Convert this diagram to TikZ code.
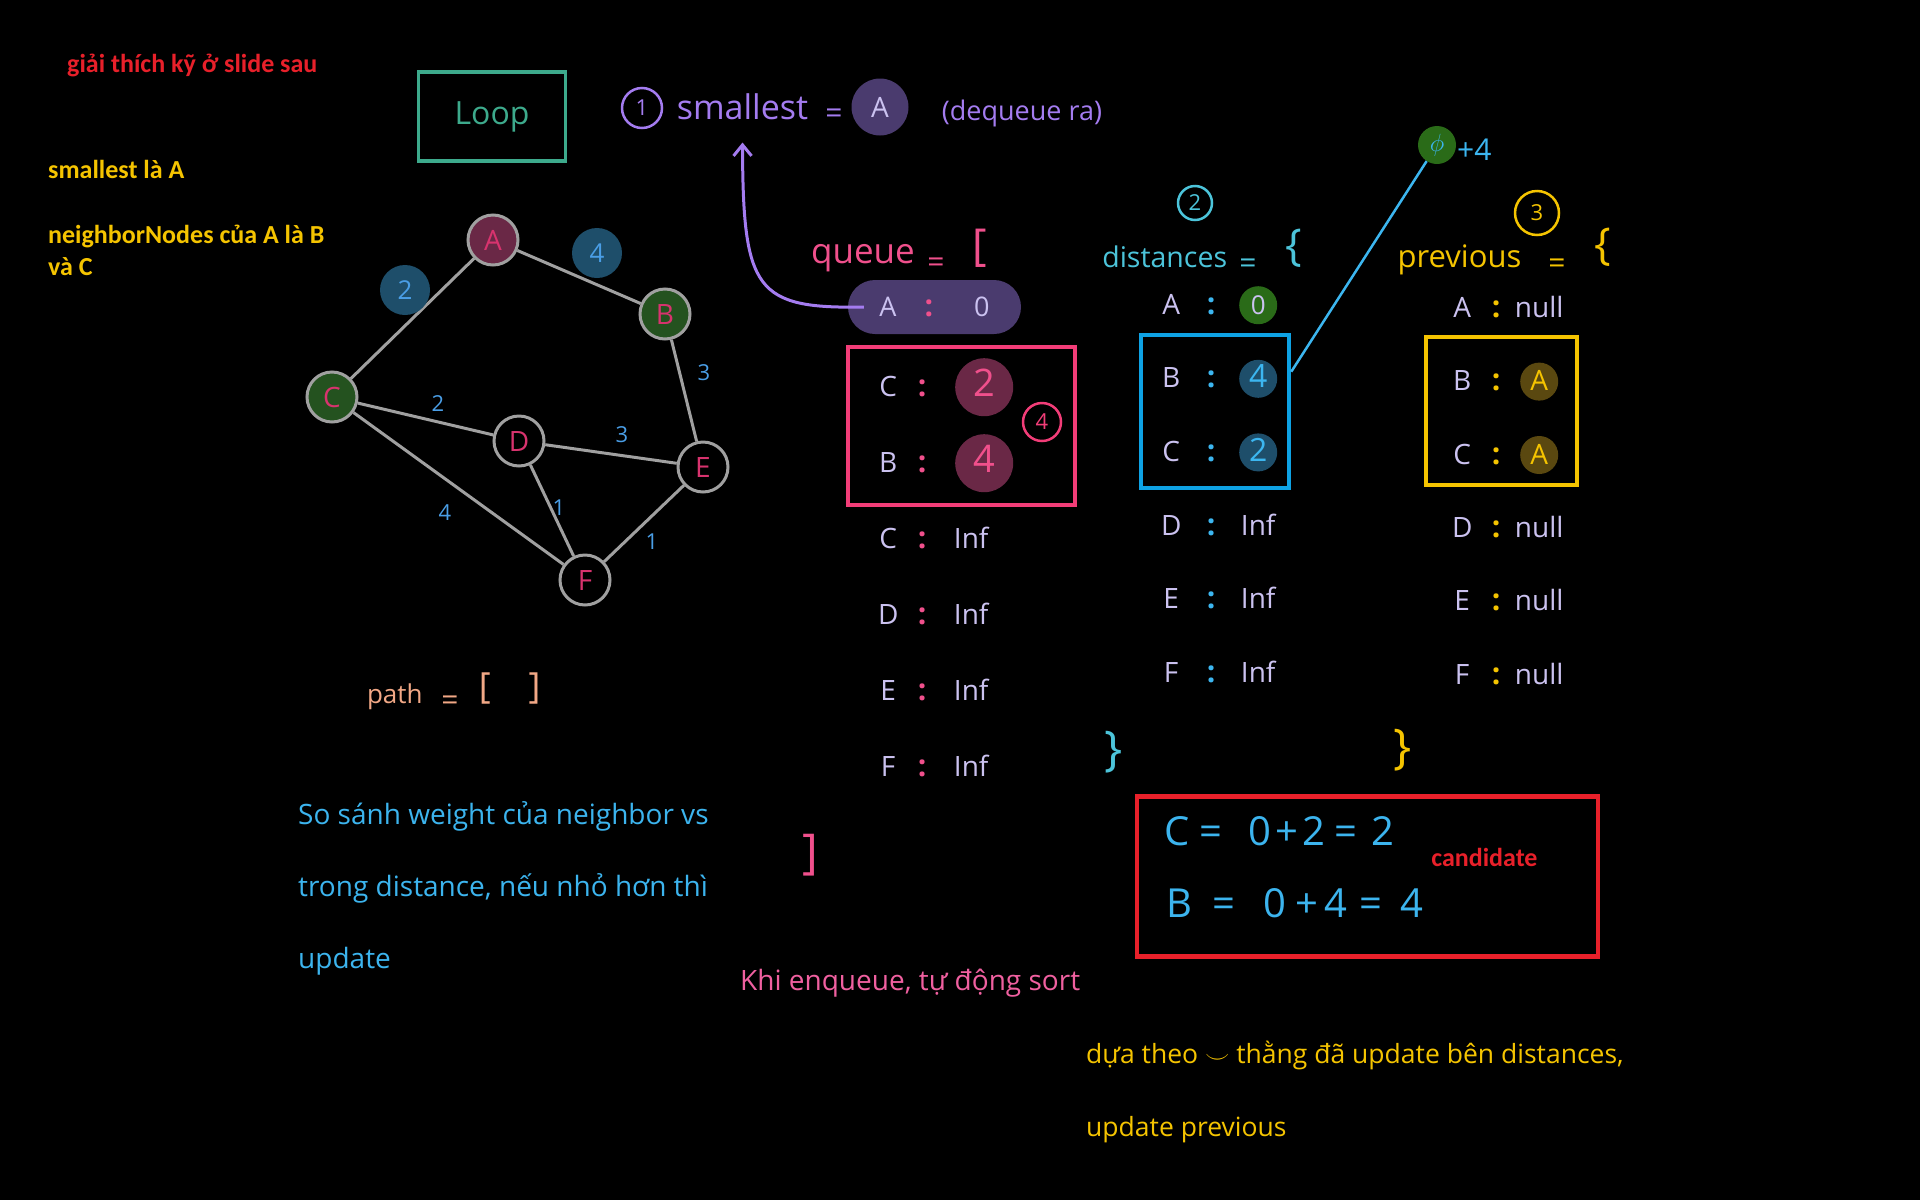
\documentclass[tikz,border=0pt]{standalone}
\usepackage{fontspec}
\setmainfont{Open Sans}
\newfontfamily\typed{Carlito}
\usetikzlibrary{matrix,arrows.meta}
\newcommand\fsz[1]{\fontsize{#1}{#1}\selectfont}
\definecolor{loopteal}{HTML}{3DAA8C}
\definecolor{purp}{HTML}{A47CF0}
\definecolor{purpfill}{HTML}{4A3B6E}
\definecolor{lav}{HTML}{CBC2F0}
\definecolor{qpink}{HTML}{F0508C}
\definecolor{boxpink}{HTML}{F23D78}
\definecolor{maroon}{HTML}{6A2846}
\definecolor{npink}{HTML}{D8336E}
\definecolor{dgreen}{HTML}{24521F}
\definecolor{blobteal}{HTML}{1E4E6A}
\definecolor{wblue}{HTML}{4A9EE6}
\definecolor{dcyan}{HTML}{4CC4DA}
\definecolor{dblue}{HTML}{0EA2E4}
\definecolor{dotblue}{HTML}{3CB6F0}
\definecolor{ygold}{HTML}{F5C400}
\definecolor{olive}{HTML}{5A4810}
\definecolor{zgreen}{HTML}{2A6B18}
\definecolor{cred}{HTML}{E8202A}
\definecolor{salmon}{HTML}{F2A886}
\definecolor{nblue}{HTML}{3CB4EE}
\definecolor{kpink}{HTML}{F060A0}
\definecolor{edgegray}{HTML}{A0A0A0}

\begin{document}
\begin{tikzpicture}[x=1pt,y=-1pt,
  txt/.style={inner sep=0pt},
  typed/.style={txt,font=\typed\bfseries\fsz{26},anchor=base west},
  gnode/.style={circle,draw=edgegray,line width=3pt,minimum size=50pt,inner sep=0pt,text=npink,font=\fsz{28}},
  wt/.style={txt,text=wblue,font=\fsz{22}},
  wblob/.style={wt,circle,fill=blobteal,minimum size=50pt,font=\fsz{26}},
  numc/.style={circle,draw,line width=2.5pt,inner sep=0pt,font=\fsz{22}},
  boxline/.style={draw,line width=4.5pt,inner sep=0pt},
  dict/.style={matrix of nodes,inner sep=0pt,row sep=0pt,column sep=0pt,anchor=north west,
    nodes={anchor=center,inner sep=0pt,text height=20pt,text depth=2pt,font=\fsz{28},text=lav},
    column 2/.style={nodes={font=\bfseries\fsz{30},minimum width=28pt}}},
  qblob/.style={circle,fill=maroon,minimum size=58pt,text=qpink,font=\fsz{38},xshift=13pt},
  dblob/.style={circle,fill=blobteal,minimum size=38pt,text=dotblue,font=\fsz{32}},
  pblob/.style={circle,fill=olive,minimum size=38pt,text=ygold,font=\fsz{28}}]
\useasboundingbox (0,0) rectangle (1920,1200);
\fill[black] (0,0) rectangle (1920,1200);

% notes on the left
\node[typed,cred] (hint) at (67,72) {giải thích kỹ ở slide sau};
\node[typed,ygold] (smallnote) at (48,178) {smallest là A};
\node[typed,ygold,font=\typed\bfseries\fontsize{26}{32}\selectfont,align=left,anchor=west] (nbrnote) at (48,250) {neighborNodes của A là B\\và C};
\node[boxline,draw=loopteal,line width=3.5pt,minimum width=147pt,minimum height=89pt,text=loopteal,font=\fsz{32}] (loop) at (492,116.5) {Loop\hspace{22pt}};

% graph
\node[gnode,fill=maroon] (A) at (493,240) {A};
\node[gnode,fill=dgreen] (B) at (665,314) {B};
\node[gnode,fill=dgreen] (C) at (332,397) {C};
\node[gnode] (D) at (519,441) {D};
\node[gnode] (E) at (703,467) {E};
\node[gnode] (F) at (585,580) {F};
\path[edgegray,line width=3pt]
(A) edge node[wblob,xshift=-7.5pt,yshift=28.5pt] {2} (C)
(A) edge node[wblob,xshift=18pt,yshift=24pt] {4} (B)
(B) edge node[wt,xshift=20pt,yshift=17.5pt] {3} (E)
(C) edge node[wt,xshift=12.5pt,yshift=15pt] {2} (D)
(D) edge node[wt,xshift=11pt,yshift=19pt] {3} (E)
(C) edge node[wt,xshift=-13.5pt,yshift=-24.5pt] {4} (F)
(D) edge node[wt,xshift=7pt,yshift=2.5pt] {1} (F)
(E) edge node[wt,xshift=8pt,yshift=-18.5pt] {1} (F);

% step 1: smallest
\node[numc,purp,minimum size=40pt] (n1) at (642,108) {1};
\node[txt,purp,font=\fsz{34},anchor=base] (smallest) at (742.5,119) {smallest};
\node[txt,purp,font=\fsz{30},anchor=base] (smeq) at (834,123) {=};
\node[circle,fill=purpfill,minimum size=57pt,inner sep=0pt,text=lav,font=\fsz{28}] (smA) at (880,107) {A};
\node[txt,purp,font=\fsz{27},anchor=base] (deq) at (1022,120) {(dequeue ra)};

% queue
\node[txt,qpink,font=\fsz{35},anchor=base] (qlabel) at (863,263) {queue};
\node[txt,qpink,font=\fsz{30},anchor=base] (qeq) at (936,272) {=};
\node[txt,qpink,font=\fsz{44}] (qbrk) at (980,248) {[};
\node[rounded corners=27pt,fill=purpfill,minimum width=173pt,minimum height=54pt,inner sep=0pt,text=lav,font=\fsz{27}] (qA) at (934.5,307) {A\hspace{28pt}{\color{qpink}\bfseries\fsz{30}:}\hspace{41pt}0};
\draw[purp,line width=3pt,-{Straight Barb[length=11pt,width=18pt]}] ([xshift=16pt]qA.west) .. controls (755,309) and (743,290) .. ([yshift=-23pt]smallest.south);
\matrix[dict,nodes={minimum height=76pt},column 1/.style={nodes={minimum width=40pt}},
  column 2/.append style={nodes={text=qpink}},column 3/.style={nodes={minimum width=70pt}}] (queue) at (868,349) {
C & : & |[qblob]| 2 \\
B & : & |[qblob]| 4 \\
C & : & Inf \\
D & : & Inf \\
E & : & Inf \\
F & : & Inf \\};
\node[boxline,draw=boxpink,minimum width=227pt,minimum height=158pt] (qbox) at (961.5,426) {};
\node[numc,boxpink,minimum size=38pt] (n4) at (1042,422) {4};
\node[txt,qpink,font=\fsz{48}] (qend) at (810,855) {]};
\node[txt,kpink,font=\fsz{28},anchor=base west] (sortnote) at (740,990) {Khi enqueue, tự động sort};

% step 2: distances
\node[numc,dcyan,minimum size=34pt] (n2) at (1195,203) {2};
\node[txt,dcyan,font=\fsz{28.5},anchor=base] (dlabel) at (1164.7,267) {distances};
\node[txt,dcyan,font=\fsz{30},anchor=base] (deq2) at (1248,273) {=};
\node[txt,dcyan,font=\fsz{44}] (dbrace) at (1294,248) {\{};
\matrix[dict,nodes={minimum height=73.6pt},column 1/.style={nodes={minimum width=52pt}},
  column 2/.append style={nodes={text=dotblue}},column 3/.style={nodes={minimum width=66pt}}] (dist) at (1145,268.2) {
A & : & |[circle,fill=zgreen,minimum size=38pt,font=\fsz{26}]| 0 \\
B & : & |[dblob]| 4 \\
C & : & |[dblob]| 2 \\
D & : & Inf \\
E & : & Inf \\
F & : & Inf \\};
\node[boxline,draw=dblue,minimum width=148pt,minimum height=153pt] (dbox) at (1215,411.3) {};
\node[txt,dcyan,font=\fsz{48}] (dend) at (1114,752) {\}};
\node[circle,fill=zgreen,minimum size=38pt,inner sep=0pt,text=dotblue,font=\fsz{46}] (phi) at (1437,145) {\(\phi\)};
\node[txt,dotblue,font=\fsz{30},anchor=west] (plus4) at (1457,150) {+4};
\draw[dotblue,line width=2.5pt] ([yshift=39.6pt]dbox.east) -- (phi);

% step 3: previous
\node[numc,ygold,minimum size=44pt] (n3) at (1537,213) {3};
\node[txt,ygold,font=\fsz{31},anchor=base] (plabel) at (1459.5,267) {previous};
\node[txt,ygold,font=\fsz{30},anchor=base] (peq) at (1557,273) {=};
\node[txt,ygold,font=\fsz{44}] (pbrace) at (1603,247) {\{};
\matrix[dict,nodes={minimum height=73.4pt},column 1/.style={nodes={minimum width=40pt}},
  column 2/.append style={nodes={text=ygold}},column 3/.style={nodes={minimum width=58pt}}] (prev) at (1442,271.3) {
A & : & null \\
B & : & |[pblob]| A \\
C & : & |[pblob]| A \\
D & : & null \\
E & : & null \\
F & : & null \\};
\node[boxline,draw=ygold,minimum width=151pt,minimum height=148pt] (pbox) at (1501.4,410.8) {};
\node[txt,ygold,font=\fsz{48}] (pend) at (1403,750) {\}};

% candidate
\node[boxline,draw=cred,minimum width=461pt,minimum height=160pt] (cbox) at (1367.5,876.7) {};
\node[txt,nblue,font=\fsz{40},anchor=base west] (candC) at (1164,845) {C\hspace{10pt}=\hspace{26pt}0\hspace{4pt}+\hspace{4pt}2\hspace{10pt}=\hspace{14pt}2};
\node[txt,nblue,font=\fsz{40},anchor=base west] (candB) at (1166,917) {B\hspace{20pt}=\hspace{28pt}0\hspace{10pt}+\hspace{6pt}4\hspace{12pt}=\hspace{18pt}4};
\node[typed,cred,anchor=base] (cand) at (1484.4,866) {candidate};

% path and notes
\node[txt,salmon,font=\fsz{26},anchor=base] (pathlbl) at (394.8,703) {path};
\node[txt,salmon,font=\fsz{30},anchor=base] (patheq) at (450,710) {=};
\node[txt,salmon,font=\fsz{36}] (pathl) at (484.7,688) {[};
\node[txt,salmon,font=\fsz{36}] (pathr) at (534.5,688) {]};
\node[txt,nblue,font=\fontsize{28}{72}\selectfont,align=left,anchor=west] (cmpnote) at (298,888) {So sánh weight của neighbor vs\\trong distance, nếu nhỏ hơn thì\\update};
\node[txt,ygold,font=\fontsize{26.5}{73}\selectfont,align=left,anchor=west] (prevnote) at (1086,1092) {dựa theo \(\smile\) thằng đã update bên distances,\\update previous};
\end{tikzpicture}
\end{document}
